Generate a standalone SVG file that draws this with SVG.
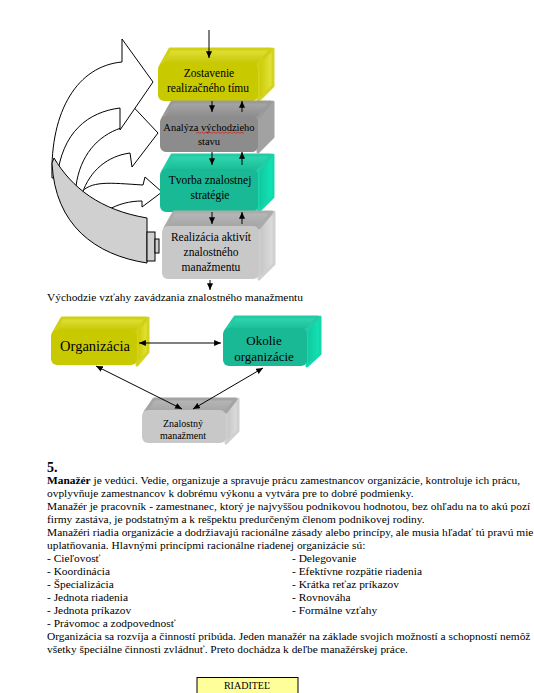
<svg xmlns="http://www.w3.org/2000/svg" width="534" height="693" viewBox="0 0 534 693">
<defs>
<marker id="ah" viewBox="0 0 8 7" markerWidth="7" markerHeight="6" refX="8" refY="3.5" orient="auto-start-reverse" markerUnits="userSpaceOnUse">
<path d="M0,0 L8,3.5 L0,7 Z" fill="#000"/>
</marker>
<linearGradient id="gYt" x1="0" y1="0" x2="0" y2="1"><stop offset="0" stop-color="#e2e23a"/><stop offset="1" stop-color="#c4c400"/></linearGradient>
<linearGradient id="gYr" x1="0" y1="0" x2="1" y2="0"><stop offset="0" stop-color="#c8c800"/><stop offset="1" stop-color="#e6e640"/></linearGradient>
<linearGradient id="gDt" x1="0" y1="0" x2="0" y2="1"><stop offset="0" stop-color="#a8a8a8"/><stop offset="1" stop-color="#8a8a8a"/></linearGradient>
<linearGradient id="gTt" x1="0" y1="0" x2="0" y2="1"><stop offset="0" stop-color="#33d8b0"/><stop offset="1" stop-color="#16bb96"/></linearGradient>
<linearGradient id="gTr" x1="0" y1="0" x2="1" y2="0"><stop offset="0" stop-color="#12c49c"/><stop offset="1" stop-color="#10e8b8"/></linearGradient>
<linearGradient id="gLt" x1="0" y1="0" x2="0" y2="1"><stop offset="0" stop-color="#b8b8b8"/><stop offset="1" stop-color="#a4a4a4"/></linearGradient>
<linearGradient id="gLr" x1="0" y1="0" x2="1" y2="0"><stop offset="0" stop-color="#c4c4c4"/><stop offset="1" stop-color="#dedede"/></linearGradient>
</defs>
<style>
.t{font-family:"Liberation Serif","Times New Roman",serif;font-size:11.4px;fill:#000}
.bx{font-family:"Liberation Serif","Times New Roman",serif;fill:#000;text-anchor:middle}
.ar{stroke:#000;stroke-width:1;fill:none;marker-end:url(#ah)}
.ar2{stroke:#000;stroke-width:1;fill:none;marker-end:url(#ah);marker-start:url(#ah)}
.wa{fill:#fff;stroke:#000;stroke-width:1;stroke-linejoin:miter}
.band{fill:#d0d0d0;stroke:#000;stroke-width:1}
.fy{fill:#c9c900}.fd{fill:#8c8c8c}.ft{fill:#19b995}.fl{fill:#c8c8c8}
.sf{stroke-linejoin:round;stroke-width:3}
</style>
<rect width="534" height="693" fill="#fff"/>

<!-- cycle arrows -->
<g id="cycle">
<path class="wa" d="M80,194 C90,180 110,183 143,185 L145,177 L162,192 L142,207 L142,201 C130,201 118,204 108,210 Z"/>
<path class="wa" d="M76,186 C80,156 97,136 121,128 L124,97 L158,133 L132,167 L130,153 C108,156 90,170 82,194 Z"/>
<path class="wa" d="M52,178 C50,110 78,66 122,62 L122,39 L153,82 L120,130 L120,108 C88,112 62,132 57,178 Z"/>
<path class="band" d="M54,158 C72,188 100,210 147,218 L147,263 C95,255 55,225 52,163 Z"/>
<rect class="band" x="147" y="232" width="8" height="29"/>
<rect class="band" x="155" y="239" width="4" height="14"/>
</g>

<!-- box 1 -->
<g id="box1">
<polygon points="258,64 273,49 273,86 258,101" fill="url(#gYr)" stroke="#d4d420" class="sf"/>
<polygon points="161,65 170,49 271,49 258,65" fill="url(#gYt)" stroke="#d0d014" class="sf"/>
<rect x="158" y="63" width="100" height="38" rx="6" class="fy"/>
<text class="bx" x="209" y="77" font-size="11.5">Zostavenie</text>
<text class="bx" x="208" y="92" font-size="11.5">realizačného tímu</text>
</g>

<!-- box 2 -->
<g id="box2">
<polygon points="258,117 273,102 273,137 258,152" fill="#a2a2a2" stroke="#a2a2a2" class="sf"/>
<polygon points="163,118 172,102 271,102 258,118" fill="url(#gDt)" stroke="#9a9a9a" class="sf"/>
<rect x="160" y="116" width="98" height="36" rx="6" class="fd"/>
<text class="bx" x="209" y="131" font-size="10.5">Analýza východzieho</text>
<path d="M196,133.5 l2,-1.5 l2,1.5 l2,-1.5 l2,1.5 l2,-1.5 l2,1.5 l2,-1.5 l2,1.5 l2,-1.5 l2,1.5 l2,-1.5 l2,1.5 l2,-1.5 l2,1.5 l2,-1.5 l2,1.5 l2,-1.5 l2,1.5 l2,-1.5 l2,1.5 l2,-1.5 l2,1.5 l2,-1.5 l2,1.5" fill="none" stroke="#e02020" stroke-width="0.8"/>
<text class="bx" x="209" y="145" font-size="10.5">stavu</text>
</g>

<!-- box 3 -->
<g id="box3">
<polygon points="258,170 273,155 273,197 258,212" fill="url(#gTr)" stroke="#14d8ac" class="sf"/>
<polygon points="163,171 172,155 271,155 258,171" fill="url(#gTt)" stroke="#22cca4" class="sf"/>
<rect x="160" y="169" width="98" height="43" rx="6" class="ft"/>
<text class="bx" x="210" y="184" font-size="11.5">Tvorba znalostnej</text>
<text class="bx" x="210" y="199" font-size="11.5">stratégie</text>
</g>

<!-- box 4 -->
<g id="box4">
<polygon points="259,227 274,212 274,264 259,279" fill="url(#gLr)" stroke="#d0d0d0" class="sf"/>
<polygon points="165,228 174,212 272,212 259,228" fill="url(#gLt)" stroke="#ababab" class="sf"/>
<rect x="162" y="226" width="97" height="53" rx="6" class="fl"/>
<text class="bx" x="211" y="241" font-size="11.5">Realizácia aktivít</text>
<text class="bx" x="211" y="256" font-size="11.5">znalostného</text>
<text class="bx" x="211" y="271" font-size="11.5">manažmentu</text>
</g>

<!-- connectors diagram 1 -->
<g id="connectors1">
<line class="ar" x1="209" y1="30" x2="209" y2="58"/>
<line class="ar" x1="212" y1="101" x2="212" y2="112"/>
<line class="ar" x1="242" y1="112" x2="242" y2="101"/>
<line class="ar" x1="212" y1="152" x2="212" y2="165"/>
<line class="ar" x1="242" y1="165" x2="242" y2="152"/>
<line class="ar" x1="212" y1="212" x2="212" y2="224"/>
<line class="ar" x1="242" y1="224" x2="242" y2="212"/>
<line class="ar" x1="210" y1="280" x2="210" y2="290"/>
</g>

<text class="t" x="47" y="301" font-size="11.6">Východzie vzťahy zavádzania znalostného manažmentu</text>

<!-- diagram 2 -->
<g id="org">
<polygon points="137,331 148,318 148,352 137,365" fill="url(#gYr)" stroke="#d4d420" class="sf"/>
<polygon points="54,332 62,318 146,318 137,332" fill="url(#gYt)" stroke="#d0d014" class="sf"/>
<rect x="51" y="330" width="86" height="35" rx="6" class="fy"/>
<text class="bx" x="95" y="351" font-size="14.5">Organizácia</text>
</g>
<g id="okolie">
<polygon points="307,329 320,317 320,354 307,366" fill="url(#gTr)" stroke="#14d8ac" class="sf"/>
<polygon points="226,330 235,317 318,317 307,330" fill="url(#gTt)" stroke="#22cca4" class="sf"/>
<rect x="223" y="328" width="84" height="38" rx="6" class="ft"/>
<text class="bx" x="264" y="345" font-size="13">Okolie</text>
<text class="bx" x="264" y="361" font-size="13">organizácie</text>
</g>
<g id="znalostny">
<polygon points="226,411 238,399 238,431 226,443" fill="url(#gLr)" stroke="#d0d0d0" class="sf"/>
<polygon points="145,412 154,399 236,399 226,412" fill="url(#gLt)" stroke="#a4a4a4" class="sf"/>
<rect x="142" y="410" width="84" height="33" rx="6" class="fl"/>
<text class="bx" x="183" y="427" font-size="10">Znalostný</text>
<text class="bx" x="183" y="439" font-size="10">manažment</text>
</g>
<g id="connectors2">
<line class="ar2" x1="139" y1="343" x2="221" y2="343"/>
<line class="ar2" x1="96" y1="366" x2="182" y2="409"/>
<line class="ar2" x1="263" y1="368" x2="193" y2="409"/>
</g>

<!-- body text -->
<text x="47" y="472" font-family="Liberation Serif, serif" font-size="14" font-weight="bold">5.</text>
<text class="t" x="47" y="484"><tspan font-weight="bold">Manažér</tspan> je vedúci. Vedie, organizuje a spravuje prácu zamestnancov organizácie, kontroluje ich prácu,</text>
<text class="t" x="47" y="497">ovplyvňuje zamestnancov k dobrému výkonu a  vytvára pre to dobré podmienky.</text>
<text class="t" x="47" y="510">Manažér je pracovník - zamestnanec, ktorý je najvyššou podnikovou hodnotou, bez ohľadu na to akú pozí</text>
<text class="t" x="47" y="523">firmy zastáva, je podstatným a k rešpektu predurčeným členom podnikovej rodiny.</text>
<text class="t" x="47" y="536">Manažéri riadia organizácie a dodržiavajú racionálne zásady alebo princípy, ale musia hľadať tú pravú mie</text>
<text class="t" x="47" y="549">uplatňovania. Hlavnými princípmi racionálne riadenej organizácie sú:</text>
<text class="t" x="47" y="562">- Cieľovosť</text>
<text class="t" x="47" y="575">- Koordinácia</text>
<text class="t" x="47" y="588">- Špecializácia</text>
<text class="t" x="47" y="601">- Jednota riadenia</text>
<text class="t" x="47" y="614">- Jednota príkazov</text>
<text class="t" x="47" y="627">- Právomoc a zodpovednosť</text>
<text class="t" x="292" y="562">- Delegovanie</text>
<text class="t" x="292" y="575">- Efektívne rozpätie riadenia</text>
<text class="t" x="292" y="588">- Krátka reťaz príkazov</text>
<text class="t" x="292" y="601">- Rovnováha</text>
<text class="t" x="292" y="614">- Formálne vzťahy</text>
<text class="t" x="47" y="640">Organizácia sa rozvíja a činností pribúda. Jeden manažér na základe svojich možností a schopností nemôž</text>
<text class="t" x="47" y="653">všetky špeciálne činnosti zvládnuť. Preto dochádza k deľbe manažérskej práce.</text>

<g id="riaditel">
<rect x="197" y="677.5" width="101" height="17" fill="#ffff99" stroke="#000" stroke-width="1"/>
<text class="bx" x="247" y="689" font-size="10">RIADITEĽ</text>
</g>
</svg>
